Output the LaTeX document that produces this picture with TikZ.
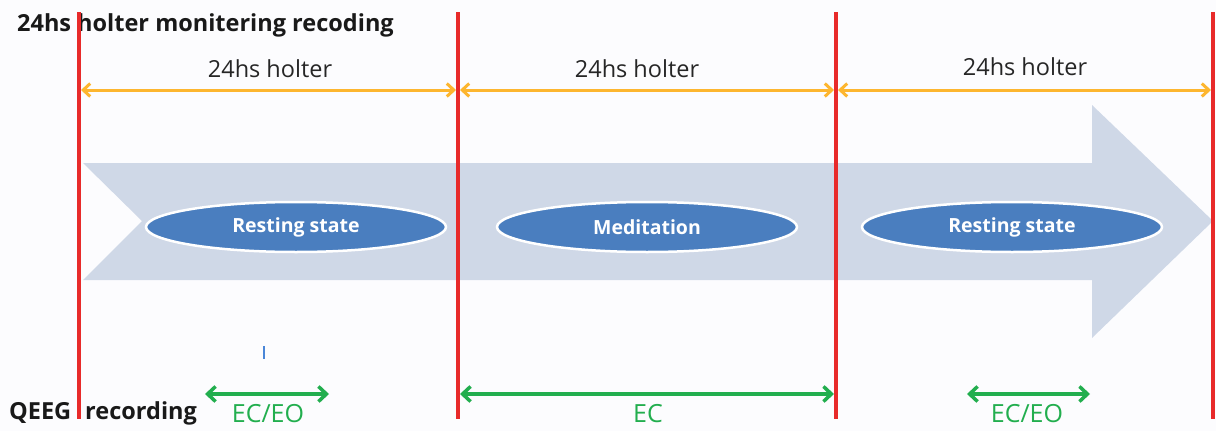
\documentclass[tikz,border=0pt]{standalone}
\usepackage{fontspec}
\setmainfont{Open Sans}
\usetikzlibrary{arrows.meta,shapes.geometric}
\definecolor{bgc}{HTML}{FCFCFE}
\definecolor{redl}{HTML}{E82A2A}
\definecolor{yel}{HTML}{FDB62F}
\definecolor{grn}{HTML}{22AE4E}
\definecolor{arrc}{HTML}{CFD8E7}
\definecolor{ellc}{HTML}{4A7EBF}
\definecolor{tickc}{HTML}{4A86D8}
\tikzset{
  redline/.style={draw=redl, line width=4pt},
  yarrow/.style={draw=yel, line width=3pt, {Straight Barb[length=7pt,width=13pt,line width=3pt]}-{Straight Barb[length=7pt,width=13pt,line width=3pt]}},
  garrow/.style={draw=grn, line width=3.5pt, {Straight Barb[length=8pt,width=15pt,line width=3.5pt]}-{Straight Barb[length=8pt,width=15pt,line width=3.5pt]}},
  phase/.style={ellipse, fill=ellc, draw=white, line width=2.5pt, minimum width=300pt, minimum height=50pt, inner sep=0pt, text=white, font=\fontsize{19.5}{22}\selectfont\bfseries},
  hlabel/.style={font=\fontsize{23.5}{27}\selectfont, text=black!85, inner sep=0pt},
  glabel/.style={font=\fontsize{25}{29}\selectfont, text=grn, inner sep=0pt},
  heading/.style={font=\fontsize{23.5}{27}\selectfont\bfseries, text=black!90, inner sep=0pt, anchor=west},
}
\begin{document}
\begin{tikzpicture}[x=1pt,y=-1pt]
\fill[bgc] (0,0) rectangle (1216,431);
\useasboundingbox (0,0) rectangle (1216,431);
% big process arrow
\fill[arrc] (83,163) -- (1092,163) -- (1092,105) -- (1213,221) -- (1092,338) -- (1092,280) -- (83,280) -- (142,221) -- cycle;
% texts
\node[heading] (title) at (17,25) {24hs holter monitering recoding};
\node[heading] (qeeg) at (9,413) {QEEG\hspace{14pt}recording};
% red lines
\coordinate (r1t) at (79,12); \coordinate (r1b) at (79,419);
\coordinate (r2t) at (458,12); \coordinate (r2b) at (458,419);
\coordinate (r3t) at (836,12); \coordinate (r3b) at (836,419);
\coordinate (r4t) at (1213,12); \coordinate (r4b) at (1213,419);
\draw[redline] (r1t) -- (r1b);
\draw[redline] (r2t) -- (r2b);
\draw[redline] (r3t) -- (r3b);
\draw[redline] (r4t) -- (r4b);
% yellow holter arrows
\coordinate (y1) at (81,90); \coordinate (y2) at (456,90);
\coordinate (y3) at (460,90); \coordinate (y4) at (834,90);
\coordinate (y5) at (838,90); \coordinate (y6) at (1211,90);
\draw[yarrow] (y1) -- (y2);
\draw[yarrow] (y3) -- (y4);
\draw[yarrow] (y5) -- (y6);
\node[hlabel] (h1) at (270,69) {24hs holter};
\node[hlabel] (h2) at (637,69) {24hs holter};
\node[hlabel] (h3) at (1025,67) {24hs holter};
% phases
\node[phase] (p1) at (296,227) {Resting state};
\node[phase] (p2) at (647,227) {Meditation};
\node[phase] (p3) at (1012,227) {Resting state};
% stray tick
\coordinate (tk1) at (264,346); \coordinate (tk2) at (264,359);
\draw[tickc, line width=1.5pt] (tk1) -- (tk2);
% green QEEG arrows
\coordinate (g1) at (205,394); \coordinate (g2) at (329,394);
\coordinate (g3) at (460,394); \coordinate (g4) at (834,394);
\coordinate (g5) at (967,394); \coordinate (g6) at (1090,394);
\draw[garrow] (g1) -- (g2);
\draw[garrow] (g3) -- (g4);
\draw[garrow] (g5) -- (g6);
\node[glabel] (e1) at (268,414) {EC/EO};
\node[glabel] (e2) at (648,414) {EC};
\node[glabel] (e3) at (1027,414) {EC/EO};
\end{tikzpicture}
\end{document}
